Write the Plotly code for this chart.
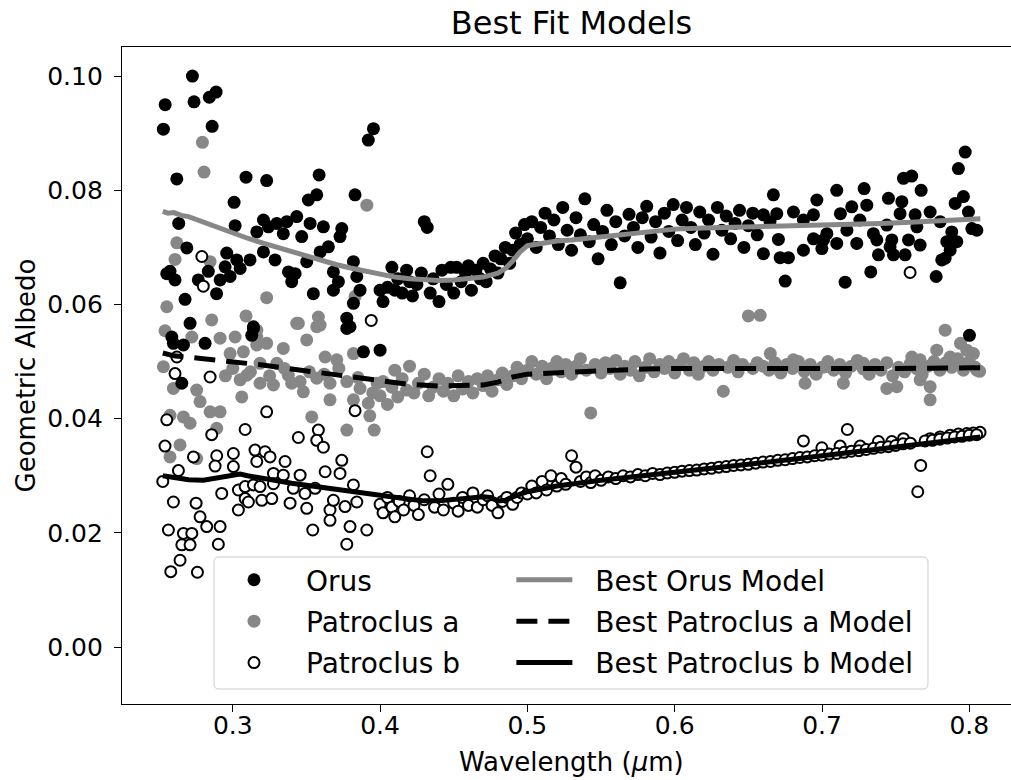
import plotly.graph_objects as go

# ---------------- data ----------------
orus_points = [
    (0.2529,0.0907),(0.2541,0.0950),(0.2620,0.0820),(0.2726,0.1000),(0.2737,0.0955),(0.2841,0.0963),(0.2887,0.0972),(0.2860,0.0912),
    (0.3090,0.0823),(0.3230,0.0817),(0.3586,0.0827),(0.3009,0.0779),(0.3513,0.0783),(0.3570,0.0792),(0.3830,0.0792),(0.3920,0.0888),(0.3955,0.0908),
    (0.2633,0.0742),(0.2688,0.0699),(0.2574,0.0658),(0.2608,0.0643),(0.2676,0.0609),(0.2710,0.0567),(0.2586,0.0543),(0.3016,0.0738),
    (0.2834,0.0658),(0.2766,0.0643),(0.2890,0.0619),(0.2914,0.0643),(0.2948,0.0666),(0.2982,0.0649),(0.3050,0.0663),(0.3117,0.0678),
    (0.3163,0.0727),(0.3208,0.0748),(0.3242,0.0736),(0.3299,0.0742),(0.3343,0.0724),(0.3367,0.0745),(0.3434,0.0754),(0.3468,0.0719),
    (0.3525,0.0742),(0.3615,0.0736),(0.3740,0.0733),(0.3728,0.0719),(0.3208,0.0692),(0.3287,0.0678),(0.3378,0.0657),(0.3400,0.0640),
    (0.3423,0.0654),(0.3502,0.0675),(0.3593,0.0692),(0.3649,0.0701),(0.3683,0.0657),(0.3717,0.0640),(0.3547,0.0619),(0.3683,0.0625),
    (0.3819,0.0675),(0.3842,0.0649),(0.3864,0.0625),(0.3819,0.0602),(0.3774,0.0576),(0.3796,0.0561),(0.3140,0.0561),(0.3129,0.0546),
    (0.2552,0.0654),(0.3027,0.0678),(0.2959,0.0690),
    (0.2597,0.0532),(0.2665,0.0529),(0.2812,0.0532),(0.2654,0.0462),(0.3140,0.0558),(0.3774,0.0558),(0.3887,0.0517),
    (0.400,0.0625),(0.402,0.0605),(0.405,0.0630),(0.408,0.0665),(0.410,0.0625),(0.412,0.0645),(0.415,0.0620),(0.418,0.0660),
    (0.420,0.0640),(0.422,0.0615),(0.425,0.0635),(0.428,0.0655),(0.430,0.0745),(0.432,0.0735),(0.434,0.0620),(0.436,0.0645),
    (0.440,0.0605),(0.442,0.0660),(0.445,0.0635),(0.448,0.0665),(0.450,0.0620),(0.452,0.0665),(0.455,0.0640),(0.458,0.0655),
    (0.460,0.0668),(0.462,0.0625),(0.465,0.0660),(0.468,0.0645),(0.470,0.0672),(0.472,0.0640),(0.475,0.0662),(0.478,0.0685),
    (0.480,0.0655),(0.482,0.0680),(0.485,0.0700),(0.488,0.0672),(0.490,0.0695),(0.492,0.0725),(0.495,0.0705),(0.498,0.0740),
    (0.400,0.0520),
    (0.500,0.0715),(0.503,0.0745),(0.506,0.0700),(0.509,0.0735),(0.512,0.0760),(0.515,0.0720),(0.518,0.0748),(0.521,0.0705),
    (0.524,0.0770),(0.527,0.0730),(0.530,0.0695),(0.533,0.0752),(0.536,0.0722),(0.539,0.0785),(0.542,0.0710),(0.545,0.0740),
    (0.548,0.0680),(0.551,0.0728),(0.554,0.0765),(0.557,0.0705),(0.560,0.0745),(0.563,0.0638),(0.566,0.0720),(0.569,0.0758),
    (0.572,0.0735),(0.575,0.0700),(0.578,0.0752),(0.581,0.0772),(0.584,0.0718),(0.587,0.0745),(0.590,0.0690),(0.593,0.0760),
    (0.596,0.0728),(0.599,0.0775),(0.602,0.0712),(0.605,0.0748),(0.608,0.0770),(0.611,0.0735),(0.614,0.0705),(0.617,0.0762),
    (0.620,0.0725),(0.623,0.0748),(0.626,0.0688),(0.629,0.0770),(0.632,0.0730),(0.635,0.0755),(0.638,0.0715),(0.641,0.0742),
    (0.644,0.0765),(0.647,0.0700),(0.650,0.0738),(0.653,0.0760),(0.656,0.0722),
    (0.7972,0.0867),(0.7926,0.0838),(0.7553,0.0821),(0.7609,0.0825),(0.7100,0.0800),(0.7286,0.0803),(0.7673,0.0800),(0.6670,0.0792),
    (0.6965,0.0783),(0.7451,0.0786),(0.7542,0.0780),(0.7960,0.0789),(0.7904,0.0777),(0.7304,0.0774),(0.7202,0.0771),(0.6806,0.0762),
    (0.7994,0.0762),(0.7125,0.0759),(0.6942,0.0757),(0.7530,0.0759),(0.7632,0.0757),(0.7734,0.0762),(0.6693,0.0759),(0.6602,0.0757),
    (0.6647,0.0745),(0.6874,0.0748),(0.7257,0.0748),(0.7440,0.0739),(0.7644,0.0736),(0.7802,0.0745),(0.7881,0.0727),(0.8017,0.0733),
    (0.8051,0.0730),(0.7033,0.0724),(0.7169,0.0730),(0.7349,0.0724),(0.6704,0.0714),(0.6942,0.0715),(0.7010,0.0713),(0.7100,0.0707),
    (0.7236,0.0707),(0.7372,0.0713),(0.7474,0.0713),(0.7587,0.0713),(0.7666,0.0704),(0.7847,0.0710),(0.7915,0.0710),(0.6602,0.0689),
    (0.6874,0.0695),(0.6999,0.0698),(0.7462,0.0701),(0.6716,0.0682),(0.6772,0.0682),(0.7383,0.0687),(0.7485,0.0687),(0.7564,0.0687),
    (0.7870,0.0695),(0.7836,0.0681),(0.7813,0.0678),(0.6750,0.0641),(0.7157,0.0639),(0.7331,0.0657),(0.7775,0.0649),(0.8001,0.0546),
]

patA_points = [
    (0.2794,0.0884),(0.2805,0.0832),(0.2620,0.0708),(0.2608,0.0679),(0.2846,0.0675),(0.2552,0.0596),(0.3230,0.0612),(0.2857,0.0573),
    (0.2540,0.0554),(0.3090,0.0580),(0.3445,0.0567),(0.3581,0.0578),(0.3570,0.0561),(0.3830,0.0614),(0.3910,0.0774),(0.3016,0.0543),
    (0.3163,0.0543),(0.2722,0.0543),(0.2914,0.0541),(0.2982,0.0514),(0.3072,0.0517),(0.3163,0.0529),(0.3230,0.0532),(0.3343,0.0523),
    (0.3434,0.0567),(0.3593,0.0564),(0.3502,0.0538),(0.3627,0.0508),(0.3706,0.0503),(0.3819,0.0514),(0.3185,0.0497),(0.3299,0.0497),
    (0.3095,0.0476),(0.3185,0.0462),(0.3276,0.0459),(0.3377,0.0476),(0.3457,0.0465),(0.3570,0.0471),(0.3660,0.0462),(0.3774,0.0465),
    (0.3864,0.0453),(0.2529,0.0491),(0.2597,0.0453),(0.2755,0.0450),(0.2778,0.0430),(0.2846,0.0412),(0.2914,0.0412),(0.2665,0.0403),
    (0.2710,0.0392),(0.2891,0.0383),(0.2574,0.0406),(0.2642,0.0354),(0.2574,0.0333),(0.2755,0.0330),(0.3061,0.0438),(0.3536,0.0403),
    (0.3774,0.0380),(0.3660,0.0433),(0.3819,0.0433),(0.3920,0.0427),(0.3479,0.0447),(0.3163,0.0555),
    (0.295,0.0475),(0.300,0.0488),(0.305,0.0468),(0.312,0.0482),(0.325,0.0475),(0.335,0.0488),(0.340,0.0462),(0.352,0.0482),
    (0.362,0.0478),(0.372,0.0488),(0.385,0.0472),(0.395,0.0445),(0.398,0.0462),(0.393,0.0405),(0.396,0.0380),
    (0.400,0.0440),(0.402,0.0465),(0.405,0.0425),(0.408,0.0455),(0.410,0.0485),(0.412,0.0438),(0.415,0.0470),(0.418,0.0450),
    (0.420,0.0492),(0.423,0.0445),(0.426,0.0462),(0.430,0.0478),(0.433,0.0440),(0.436,0.0455),(0.440,0.0470),(0.443,0.0448),
    (0.446,0.0462),(0.450,0.0440),(0.453,0.0475),(0.456,0.0452),(0.460,0.0465),(0.463,0.0445),(0.466,0.0470),(0.470,0.0458),
    (0.473,0.0475),(0.476,0.0448),(0.480,0.0468),(0.483,0.0480),(0.486,0.0460),(0.490,0.0475),(0.493,0.0490),(0.496,0.0470),
    (0.500,0.0485),(0.503,0.0500),(0.506,0.0478),(0.510,0.0492),(0.513,0.0470),(0.516,0.0488),(0.520,0.0500),(0.523,0.0482),
    (0.526,0.0495),(0.530,0.0478),(0.533,0.0492),(0.536,0.0505),(0.540,0.0485),(0.543,0.0410),(0.546,0.0495),(0.550,0.0480),
    (0.553,0.0498),(0.556,0.0488),(0.560,0.0502),(0.563,0.0478),(0.566,0.0492),(0.570,0.0485),(0.573,0.0500),(0.576,0.0475),
    (0.580,0.0490),(0.583,0.0505),(0.586,0.0482),(0.590,0.0495),(0.593,0.0488),(0.596,0.0500),(0.600,0.0480),(0.603,0.0495),
    (0.606,0.0505),(0.610,0.0485),(0.613,0.0498),(0.616,0.0478),(0.620,0.0492),(0.623,0.0500),(0.626,0.0485),(0.630,0.0495),
    (0.633,0.0448),(0.636,0.0490),(0.640,0.0502),(0.643,0.0482),(0.646,0.0495),(0.650,0.0580),(0.653,0.0488),(0.656,0.0498),
    (0.6580,0.0581),(0.7836,0.0555),(0.7779,0.0520),(0.7940,0.0532),(0.7983,0.0520),(0.8028,0.0514),(0.7870,0.0508),(0.7756,0.0497),
    (0.7610,0.0508),(0.7666,0.0503),(0.7734,0.0433),(0.7734,0.0456),(0.7666,0.0468),(0.6649,0.0514),(0.6806,0.0503),(0.7021,0.0491),
    (0.7281,0.0497),(0.6885,0.0462),(0.7145,0.0462),(0.7440,0.0453),(0.7508,0.0456),(0.8051,0.0485),(0.7960,0.0485),
    (0.660,0.0492),(0.664,0.0485),(0.668,0.0498),(0.672,0.0480),(0.676,0.0495),(0.680,0.0488),(0.684,0.0500),(0.688,0.0483),
    (0.692,0.0495),(0.696,0.0478),(0.700,0.0490),(0.704,0.0500),(0.708,0.0485),(0.712,0.0495),(0.716,0.0480),(0.720,0.0492),
    (0.724,0.0502),(0.728,0.0487),(0.732,0.0478),(0.736,0.0495),(0.740,0.0485),(0.744,0.0498),(0.748,0.0475),(0.752,0.0490),
    (0.756,0.0482),(0.760,0.0497),(0.764,0.0488),(0.768,0.0478),(0.772,0.0492),(0.776,0.0500),(0.780,0.0485),(0.784,0.0498),
    (0.788,0.0490),(0.792,0.0505),(0.796,0.0495),(0.800,0.0500),(0.804,0.0490),(0.807,0.0483),
]

patB_points = [
    (0.2790,0.0684),(0.2800,0.0632),(0.2620,0.0508),(0.2608,0.0479),(0.2846,0.0473),(0.2552,0.0398),(0.3230,0.0412),(0.3084,0.0381),
    (0.2857,0.0372),(0.2540,0.0352),(0.3445,0.0367),(0.3581,0.0380),(0.3570,0.0362),(0.3615,0.0350),(0.3830,0.0414),(0.2631,0.0309),
    (0.2525,0.0290),(0.2733,0.0333),(0.2891,0.0335),(0.2880,0.0317),(0.3004,0.0339),(0.3004,0.0316),(0.3151,0.0345),(0.3219,0.0342),
    (0.3163,0.0325),(0.3253,0.0333),(0.3355,0.0325),(0.3276,0.0304),(0.3343,0.0301),(0.3457,0.0301),(0.3627,0.0307),(0.3728,0.0304),
    (0.3740,0.0327),(0.3819,0.0284),(0.2925,0.0269),(0.3038,0.0275),(0.3084,0.0281),(0.3140,0.0284),(0.3185,0.0281),(0.3276,0.0286),
    (0.3411,0.0278),(0.3490,0.0269),(0.3559,0.0278),(0.3084,0.0260),(0.3106,0.0254),(0.2597,0.0254),(0.2751,0.0252),(0.3038,0.0240),
    (0.3197,0.0257),(0.3265,0.0260),(0.3389,0.0252),(0.3502,0.0243),(0.3660,0.0240),(0.3683,0.0257),(0.3762,0.0246),(0.3842,0.0254),
    (0.2778,0.0228),(0.2563,0.0205),(0.2665,0.0199),(0.2722,0.0199),(0.2823,0.0211),(0.2914,0.0211),(0.2654,0.0179),(0.2710,0.0179),
    (0.2902,0.0180),(0.2642,0.0152),(0.2579,0.0132),(0.2760,0.0131),(0.3543,0.0205),(0.3660,0.0222),(0.3796,0.0211),(0.3774,0.0180),
    (0.3910,0.0205),(0.3940,0.0572),
    (0.400,0.0250),(0.402,0.0235),(0.405,0.0262),(0.408,0.0245),(0.410,0.0228),(0.413,0.0255),(0.416,0.0240),(0.420,0.0265),
    (0.423,0.0248),(0.426,0.0232),(0.430,0.0258),(0.432,0.0342),(0.434,0.0300),(0.437,0.0245),(0.440,0.0268),(0.443,0.0240),
    (0.446,0.0285),(0.450,0.0252),(0.453,0.0238),(0.456,0.0262),(0.460,0.0248),(0.463,0.0270),(0.466,0.0245),(0.470,0.0258),
    (0.473,0.0265),(0.476,0.0248),(0.480,0.0235),(0.483,0.0255),(0.486,0.0262),(0.490,0.0250),(0.493,0.0262),(0.496,0.0270),
    (0.500,0.0268),(0.503,0.0282),(0.506,0.0270),(0.510,0.0290),(0.513,0.0275),(0.516,0.0300),(0.520,0.0282),(0.523,0.0295),
    (0.526,0.0285),(0.530,0.0335),(0.533,0.0315),(0.536,0.0290),(0.540,0.0298),(0.543,0.0288),(0.546,0.0300),(0.550,0.0292),
    (0.555,0.0298),(0.560,0.0295),(0.565,0.0300),(0.570,0.0298),(0.575,0.0302),(0.580,0.0300),(0.585,0.0304),(0.590,0.0302),
    (0.595,0.0305),(0.600,0.0306),(0.605,0.0308),(0.610,0.0309),(0.615,0.0310),(0.620,0.0312),(0.625,0.0313),(0.630,0.0315),
    (0.635,0.0316),(0.640,0.0318),(0.645,0.0319),(0.650,0.0320),(0.655,0.0322),(0.660,0.0324),(0.665,0.0325),(0.670,0.0327),
    (0.675,0.0328),(0.680,0.0330),(0.685,0.0332),
    (0.6874,0.0361),(0.7172,0.0381),(0.6999,0.0349),(0.7123,0.0352),(0.7259,0.0352),(0.7383,0.0360),(0.7474,0.0360),(0.7553,0.0365),
    (0.7734,0.0365),(0.7802,0.0368),(0.7870,0.0371),(0.7926,0.0373),(0.7983,0.0374),(0.8028,0.0375),(0.8073,0.0376),(0.7598,0.0656),
    (0.690,0.0333),(0.695,0.0335),(0.700,0.0336),(0.705,0.0338),(0.710,0.0339),(0.715,0.0341),(0.720,0.0343),(0.725,0.0344),
    (0.730,0.0346),(0.735,0.0348),(0.740,0.0350),(0.745,0.0351),(0.750,0.0353),(0.755,0.0356),(0.760,0.0357),(0.765,0.0272),
    (0.767,0.0318),(0.770,0.0361),(0.775,0.0362),(0.780,0.0364),(0.785,0.0366),(0.790,0.0368),(0.795,0.0369),(0.800,0.0371),(0.805,0.0372),
]

orus_model_wl = [0.2525,0.256,0.26,0.265,0.27,0.28,0.29,0.30,0.31,0.32,0.33,0.34,0.35,0.36,0.37,0.38,0.39,0.40,0.41,0.42,
                 0.43,0.44,0.45,0.46,0.47,0.48,0.485,0.49,0.495,0.50,0.51,0.52,0.53,0.54,0.55,0.56,0.57,0.58,0.59,0.60,
                 0.62,0.64,0.66,0.68,0.70,0.72,0.74,0.76,0.78,0.80,0.8075]
orus_model_alb = [0.0763,0.0760,0.0761,0.0756,0.0754,0.0744,0.0734,0.0726,0.0716,0.0708,0.0700,0.0692,0.0684,0.0677,0.0670,
                  0.0664,0.0658,0.0652,0.0648,0.0645,0.0643,0.0642,0.0643,0.0645,0.0648,0.0655,0.0663,0.0676,0.0692,0.0703,
                  0.0708,0.0711,0.0713,0.0716,0.0719,0.0722,0.0725,0.0728,0.0730,0.0732,0.0734,0.0735,0.0736,0.0737,0.0738,
                  0.0740,0.0742,0.0744,0.0746,0.0749,0.0750]

patA_model_wl = [0.2525,0.26,0.28,0.30,0.32,0.34,0.36,0.38,0.40,0.42,0.44,0.46,0.47,0.48,0.49,0.50,0.52,0.55,0.58,0.60,
                 0.65,0.70,0.75,0.80,0.8075]
patA_model_alb = [0.0515,0.0510,0.0505,0.0500,0.0494,0.0487,0.0480,0.0472,0.0465,0.0460,0.0457,0.0457,0.0459,0.0464,0.0473,
                  0.0478,0.0481,0.0484,0.0487,0.0488,0.0488,0.0487,0.0488,0.0489,0.0489]

patB_model_wl = [0.2525,0.26,0.27,0.28,0.29,0.30,0.305,0.31,0.32,0.34,0.36,0.38,0.39,0.40,0.42,0.43,0.44,0.45,0.46,0.47,
                 0.475,0.48,0.485,0.49,0.50,0.52,0.55,0.58,0.60,0.62,0.65,0.68,0.70,0.72,0.75,0.78,0.80,0.8075]
patB_model_alb = [0.0300,0.0297,0.0293,0.0292,0.0297,0.0302,0.0303,0.0300,0.0295,0.0287,0.0280,0.0274,0.0270,0.0266,0.0259,
                  0.0256,0.0256,0.0258,0.0262,0.0263,0.0262,0.0256,0.0257,0.0263,0.0272,0.0282,0.0292,0.0300,0.0305,0.0311,
                  0.0320,0.0329,0.0335,0.0341,0.0350,0.0359,0.0366,0.0368]

x_ticks = [0.3, 0.4, 0.5, 0.6, 0.7, 0.8]
y_ticks = [0.00, 0.02, 0.04, 0.06, 0.08, 0.10]

# ---------------- figure ----------------
GREY = "#878787"
FONT = "DejaVu Sans"
NB = "\u00a0\u00a0"   # spacing between legend line handle and its label

def split(pts):
    return [p[0] for p in pts], [p[1] for p in pts]

fig = go.Figure()
ax, ay = split(patA_points)
ox, oy = split(orus_points)
bx, by = split(patB_points)

fig.add_trace(go.Scatter(x=ax, y=ay, mode="markers", name="Patroclus a", legend="legend", legendrank=2,
                         legendgroup="g2",
                         marker=dict(size=13, color=GREY, line=dict(width=0))))
fig.add_trace(go.Scatter(x=ox, y=oy, mode="markers", name="Orus", legend="legend", legendrank=1,
                         legendgroup="g1",
                         marker=dict(size=13, color="black", line=dict(width=0))))
fig.add_trace(go.Scatter(x=bx, y=by, mode="markers", name="Patroclus b", legend="legend", legendrank=3,
                         legendgroup="g3",
                         marker=dict(size=11, color="white", line=dict(width=2, color="black"))))
fig.add_trace(go.Scatter(x=orus_model_wl, y=orus_model_alb, mode="lines", name=NB + "Best Orus Model",
                         legend="legend2", legendrank=4, legendgroup="g4",
                         line=dict(color=GREY, width=5)))
fig.add_trace(go.Scatter(x=patA_model_wl, y=patA_model_alb, mode="lines", name=NB + "Best Patroclus a Model",
                         legend="legend2", legendrank=5, legendgroup="g5",
                         line=dict(color="black", width=5, dash="21px,11px")))
fig.add_trace(go.Scatter(x=patB_model_wl, y=patB_model_alb, mode="lines", name=NB + "Best Patroclus b Model",
                         legend="legend2", legendrank=6, legendgroup="g6",
                         line=dict(color="black", width=5)))

# legend frame (rounded rectangle, paper coords)
L, R, T, B = 0.1035, 0.9066, 0.2237, 0.0228
rx, ry = 5 / 889, 5 / 657
frame = (f"M {L+rx},{B} L {R-rx},{B} Q {R},{B} {R},{B+ry} L {R},{T-ry} Q {R},{T} {R-rx},{T} "
         f"L {L+rx},{T} Q {L},{T} {L},{T-ry} L {L},{B+ry} Q {L},{B} {L+rx},{B} Z")
fig.add_shape(type="path", path=frame, xref="paper", yref="paper", layer="above",
              fillcolor="rgba(255,255,255,0.8)", line=dict(color="#cccccc", width=1))

legend_common = dict(yanchor="top", orientation="v", bgcolor="rgba(0,0,0,0)", borderwidth=0,
                     font=dict(size=28, family=FONT, color="black"), traceorder="grouped",
                     tracegroupgap=2)

fig.update_layout(
    template="none",
    width=1011, height=780,
    margin=dict(l=122, r=0, t=47, b=76, autoexpand=False),
    paper_bgcolor="white", plot_bgcolor="white",
    font=dict(family=FONT, color="black"),
    title=dict(text="Best Fit Models", x=571.5 / 1011, xref="container", xanchor="center",
               y=1 - 34 / 780, yref="container", yanchor="bottom",
               font=dict(size=32, family=FONT, color="black")),
    legend=dict(x=0.09, xanchor="left", y=0.2267, itemwidth=94, **legend_common),
    legend2=dict(x=0.438, xanchor="left", y=0.2267, itemwidth=56, **legend_common),
    showlegend=True,
    annotations=[
        dict(text="Wavelength (<i>μ</i>m)", xref="paper", yref="paper", x=0.5056, y=-0.1142,
             xanchor="center", yanchor="bottom", showarrow=False,
             font=dict(size=26, family=FONT, color="black")),
        dict(text="Geometric Albedo", xref="paper", yref="paper", x=-0.108, y=0.5,
             xanchor="center", yanchor="middle", textangle=-90, showarrow=False,
             font=dict(size=26, family=FONT, color="black")),
    ],
)

fig.update_xaxes(range=[0.2248, 0.8283], tickvals=x_ticks, ticktext=[f"{v:.1f}" for v in x_ticks],
                 showline=True, linecolor="black", linewidth=1.3, mirror=True, automargin=False,
                 ticks="outside", ticklen=7, tickwidth=1.3, tickcolor="black", ticklabelstandoff=-8,
                 showgrid=False, zeroline=False, tickfont=dict(size=25, family=FONT, color="black"))
fig.update_yaxes(range=[-0.00998, 0.1051], tickvals=y_ticks, ticktext=[f"{v:.2f}" for v in y_ticks],
                 showline=True, linecolor="black", linewidth=1.3, mirror=False, automargin=False,
                 ticks="outside", ticklen=7, tickwidth=1.3, tickcolor="black", ticklabelstandoff=6,
                 showgrid=False, zeroline=False, tickfont=dict(size=25, family=FONT, color="black"))

fig.write_html("out.html", config={"displayModeBar": False},
               post_script="document.body.style.margin='0px';document.body.style.overflow='hidden';")
